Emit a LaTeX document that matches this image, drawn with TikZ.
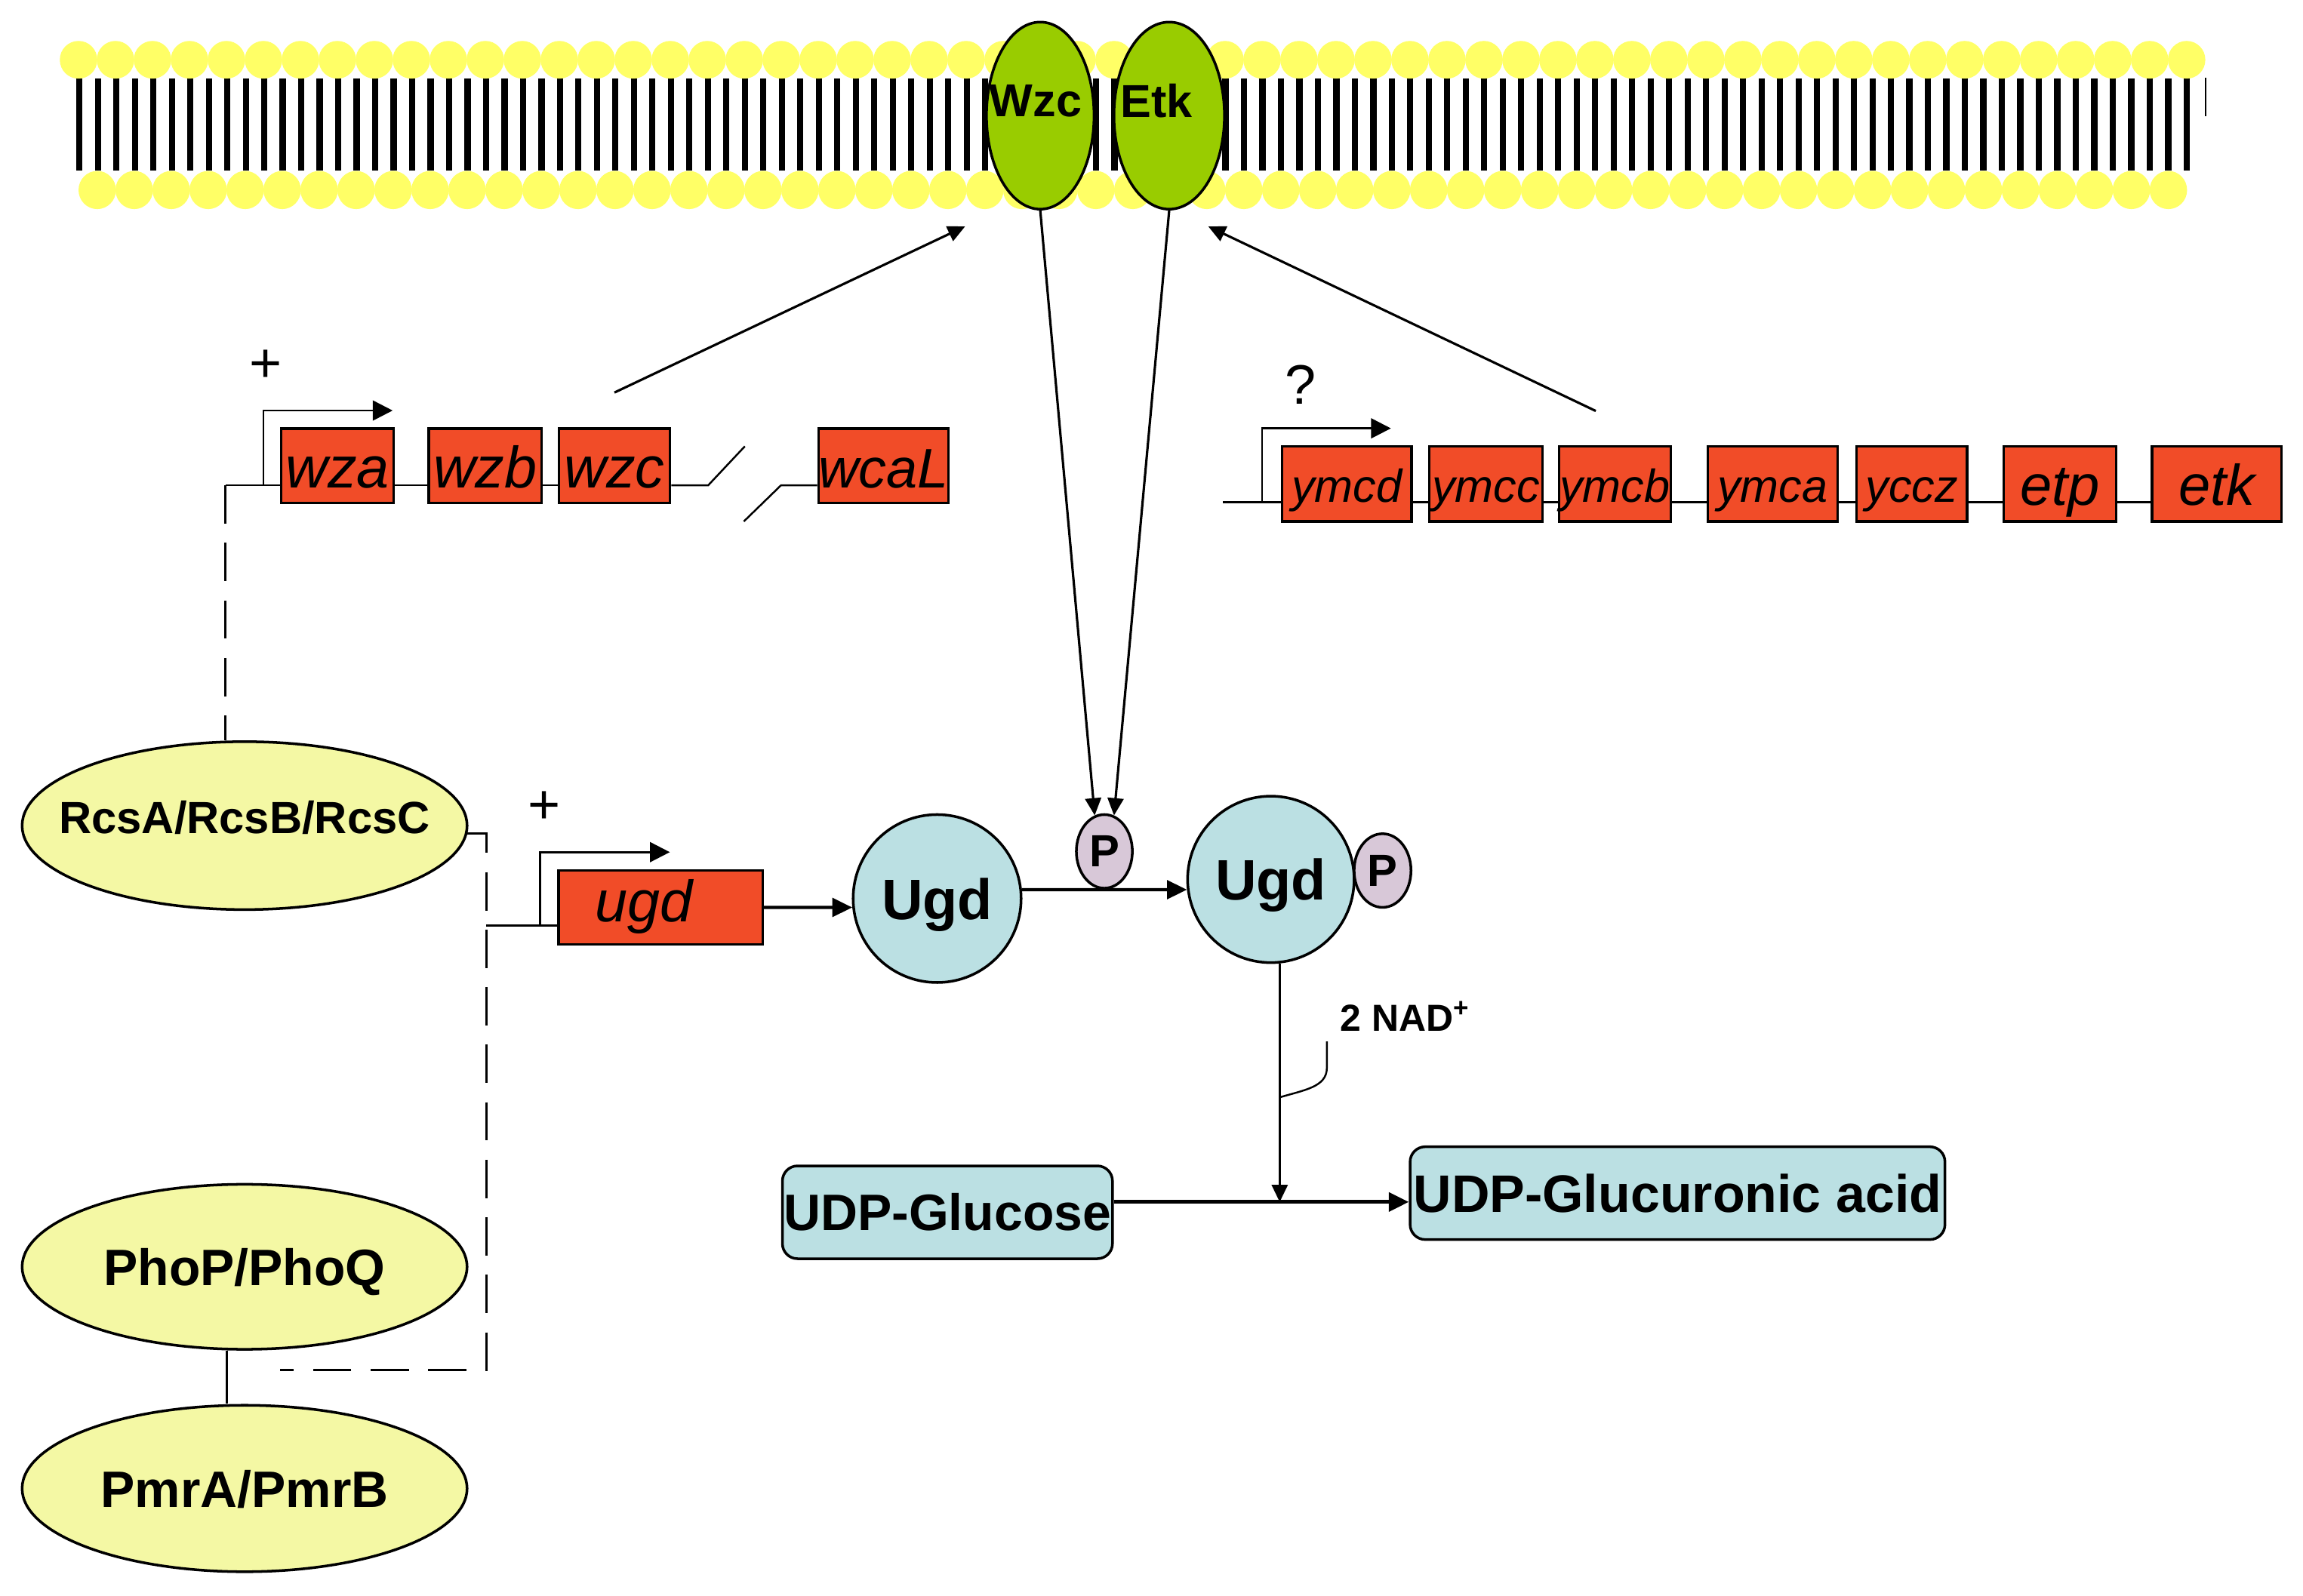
\documentclass[tikz,border=0pt]{standalone}
\usepackage{fontspec}
\setmainfont{Liberation Sans}
\usetikzlibrary{arrows.meta,shapes.geometric}
\definecolor{genered}{RGB}{241,76,40}
\definecolor{headyel}{RGB}{255,255,102}
\definecolor{protgreen}{RGB}{153,204,0}
\definecolor{paleyel}{RGB}{244,248,164}
\definecolor{paleblue}{RGB}{187,224,227}
\definecolor{pmauve}{RGB}{216,200,216}
\newcommand\myfs[1]{\fontsize{#1}{#1}\selectfont}
\newcommand\zw[1]{\makebox[0pt]{#1}}
\begin{document}
\begin{tikzpicture}[x=0.01952cm,y=-0.01952cm,
  sz/.style 2 args={minimum width=#1*0.01952cm, minimum height=#2*0.01952cm},
  gene/.style={rectangle, draw=black, line width=0.9pt, fill=genered, inner sep=0pt},
  lgl/.style={font=\itshape\myfs{22}, text height=0.586cm, text depth=0pt},
  rgl/.style={font=\itshape\myfs{17.4}, text height=0.488cm, text depth=0pt},
  rgb/.style={font=\itshape\myfs{21.6}, text height=0.566cm, text depth=0pt},
  tcs/.style={ellipse, draw=black, line width=1pt, fill=paleyel, inner sep=0pt, text depth=0pt},
  memprot/.style={ellipse, draw=black, line width=1pt, fill=protgreen, inner sep=0pt},
  ugdc/.style={circle, draw=black, line width=1pt, fill=paleblue, inner sep=0pt, text depth=0pt, font=\bfseries\myfs{21.5}},
  phos/.style={ellipse, draw=black, line width=1pt, fill=pmauve, inner sep=0pt, font=\bfseries\myfs{17}},
  sugar/.style={rectangle, rounded corners=0.2cm, draw=black, line width=1pt, fill=paleblue, inner sep=0pt},
  gline/.style={line width=0.7pt},
  prom/.style={line width=0.8pt, -{Triangle[length=7.5pt,width=7.5pt]}},
  thinarr/.style={line width=0.9pt, -{Triangle[length=6.5pt,width=6pt]}},
  medarr/.style={line width=1.2pt, -{Triangle[length=7.5pt,width=7pt]}},
  thickarr/.style={line width=1.5pt, -{Triangle[length=7.5pt,width=7pt]}},
  dline/.style={line width=0.8pt, dash pattern=on 0.508cm off 0.254cm},
  sign/.style={font=\myfs{21}, inner sep=0pt}
]
\useasboundingbox (0,0) rectangle (1563,1083);

% ---------- membrane ----------
\foreach \i in {0,...,114} \draw[line width=2.33pt] ({53.9+\i*12.545},53.4) -- ({53.9+\i*12.545},116);
\draw[line width=0.6pt] (1497,53) -- (1497,79);
\foreach \i in {0,...,57} \fill[headyel] ({53.3+\i*25.1},40.6) ellipse [x radius=0.248cm, y radius=0.25cm];
\foreach \i in {0,...,56} \fill[headyel] ({66+\i*25.1},129) ellipse [x radius=0.248cm, y radius=0.253cm];

\node[memprot, sz={73}{127}, label={[font=\bfseries\myfs{17.4}, xshift=-0.06cm, yshift=0.195cm]center:Wzc}] (wzcp) at (706,78.5) {};
\node[memprot, sz={75}{127}, label={[font=\bfseries\myfs{17.4}, xshift=-0.166cm, yshift=0.195cm]center:Etk}] (etkp) at (793.5,78.5) {};

% ---------- left gene row ----------
\coordinate (lstart) at (153,329.5);
\node[gene, sz={76}{50.5}, lgl] (wza) at (229,316.2) {wza};
\node[gene, sz={76.6}{50.5}, lgl] (wzb) at (329.3,316.2) {wzb};
\node[gene, sz={75.7}{50.5}, lgl] (wzc) at (417,316.2) {wzc};
\node[gene, sz={88}{50.5}, lgl, font=\itshape\myfs{21}] (wcal) at (599.5,316.2) {wcaL};
\coordinate (brk1a) at (480.6,329.5);
\coordinate (brk1b) at (505.5,303);
\coordinate (brk2a) at (504.8,354);
\coordinate (brk2b) at (530,329.5);
\draw[gline] (lstart) -- (wza.west |- lstart);
\draw[gline] (wza.east |- lstart) -- (wzb.west |- lstart);
\draw[gline] (wzb.east |- lstart) -- (wzc.west |- lstart);
\draw[gline] (wzc.east |- lstart) -- (brk1a) -- (brk1b);
\draw[gline] (brk2a) -- (brk2b) -- (wcal.west |- lstart);
\coordinate (pr1) at (178.8,329.5);
\coordinate (pr1t) at (266.5,278.7);
\draw[prom] (pr1) |- (pr1t);
\node[sign] (plus1) at (180.6,248.5) {+};

\coordinate (gstartL) at (417,266.5);
\coordinate (memL) at (655,153.7);
\draw[thinarr] (gstartL) -- (memL);

% ---------- right gene row ----------
\coordinate (rstart) at (830,341);
\node[gene, sz={88}{51}, rgl] (ymcd) at (914,328.5) {ymcd};
\node[gene, sz={77}{51}, rgl] (ymcc) at (1008.5,328.5) {ymcc};
\node[gene, sz={76}{51}, rgl] (ymcb) at (1096,328.5) {ymcb};
\node[gene, sz={88}{51}, rgl] (ymca) at (1203,328.5) {ymca};
\node[gene, sz={75}{51}, rgl] (yccz) at (1297.5,328.5) {yccz};
\node[gene, sz={76}{51}, rgb] (etp) at (1398,328.5) {etp};
\node[gene, sz={88}{51}, rgb] (etk) at (1504.5,328.5) {etk};
\draw[gline] (rstart) -- (ymcd.west |- rstart);
\draw[gline] (ymcd.east |- rstart) -- (ymcc.west |- rstart);
\draw[gline] (ymcc.east |- rstart) -- (ymcb.west |- rstart);
\draw[gline] (ymcb.east |- rstart) -- (ymca.west |- rstart);
\draw[gline] (ymca.east |- rstart) -- (yccz.west |- rstart);
\draw[gline] (yccz.east |- rstart) -- (etp.west |- rstart);
\draw[gline] (etp.east |- rstart) -- (etk.west |- rstart);
\coordinate (pr2) at (856.5,341);
\coordinate (pr2t) at (944,290.8);
\draw[prom] (pr2) |- (pr2t);
\node[sign] (q) at (882.7,261) {?};

\coordinate (gstartR) at (1083,279);
\coordinate (memR) at (820,153.7);
\draw[thinarr] (gstartR) -- (memR);

% ---------- two-component systems ----------
\node[tcs, sz={302}{114}, font=\bfseries\myfs{17}, text height=0.205cm] (rcs) at (166,560.5) {\zw{RcsA/RcsB/RcsC}};
\node[tcs, sz={302}{112}, font=\bfseries\myfs{19.3}] (phop) at (166,860) {\zw{PhoP/PhoQ}};
\node[tcs, sz={302}{113}, font=\bfseries\myfs{19.3}] (pmra) at (166,1010.5) {\zw{PmrA/PmrB}};
\draw[gline] ([xshift=-12*0.01952cm]phop.south) -- ([xshift=-12*0.01952cm]pmra.north);
\draw[dline] (lstart) -- ([xshift=-13*0.01952cm]rcs.north);
\coordinate (tcv) at (330,930);
\coordinate (tch) at (190,930);
\draw[dline] (rcs.-2) -- (rcs.-2 -| tcv) -- (tcv) -- (tch);

% ---------- ugd gene ----------
\coordinate (ustart) at (330,628.4);
\node[gene, sz={138.5}{50.3}, font=\itshape\myfs{22}, text height=0.39cm, text depth=0pt] (ugdg) at (448.3,616) {ugd\hspace*{0.45cm}};
\draw[gline] (ustart) -- (ugdg.west |- ustart);
\coordinate (pr3) at (366.6,628.4);
\coordinate (pr3t) at (454.6,578.5);
\draw[prom] (pr3) |- (pr3t);
\node[sign] (plus2) at (369.5,548) {+};

% ---------- Ugd protein ----------
\node[ugdc, minimum size=114*0.01952cm] (ugd1) at (636,610) {Ugd};
\node[ugdc, minimum size=113*0.01952cm] (ugd2) at (862.5,597) {Ugd};
\node[phos, sz={38}{50}] (p1) at (749.5,578) {P};
\node[phos, sz={38.6}{50}] (p2) at (938.3,591) {P};
\draw[medarr] (ugdg.east) -- (ugd1.186);
\draw[medarr] (ugd1.6) -- (ugd2.187);
\draw[thinarr] (wzcp.south) -- (p1.105);
\draw[thinarr] (etkp.south) -- (p1.75);

% ---------- sugars ----------
\node[sugar, sz={224}{63}, font=\bfseries\myfs{19.3}] (glc) at (643,823) {UDP-Glucose};
\node[sugar, sz={363}{63}, font=\bfseries\myfs{19.9}] (gla) at (1138.5,810) {UDP-Glucuronic acid};
\coordinate (mid) at (868.4,816);
\draw[thickarr] (glc.east |- mid) -- (gla.west |- mid);
\draw[thinarr] (ugd2.-84) -- (ugd2.-84 |- mid);
\coordinate (nadtop) at (900.5,707);
\coordinate (nadj) at (868.4,745);
\draw[gline] (nadtop) -- (900.5,725) .. controls (900.5,738) and (885,740) .. (nadj);
\node[font=\bfseries\myfs{14.2}, inner sep=0pt] (nad) at (953.6,690) {2 NAD\textsuperscript{+}};
\end{tikzpicture}
\end{document}
